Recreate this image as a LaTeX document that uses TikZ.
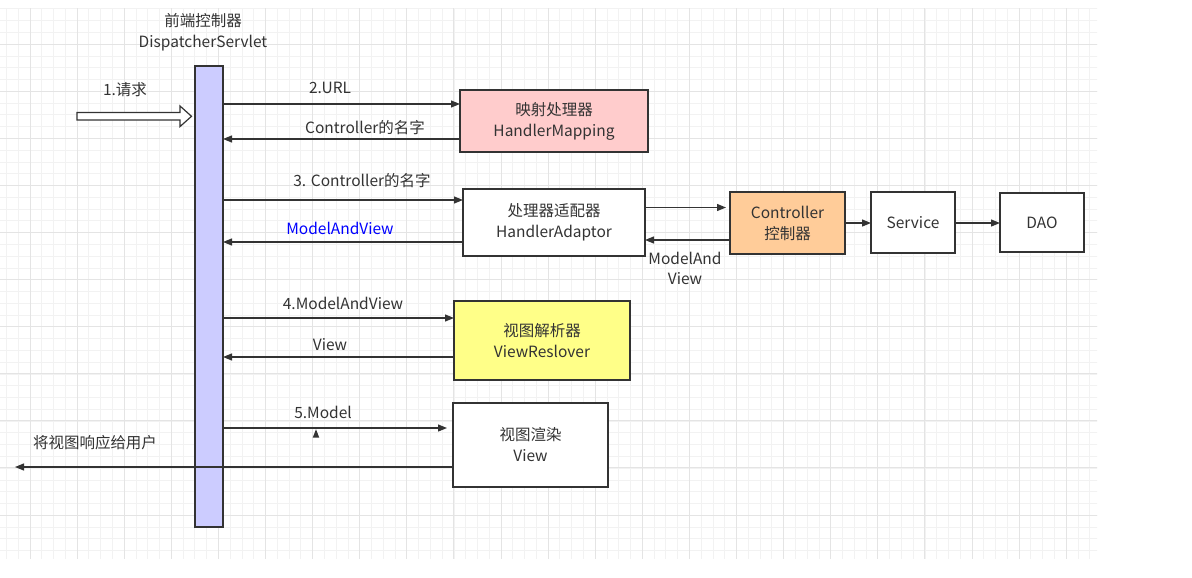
\documentclass[tikz,border=0pt]{standalone}
\usepackage{fontspec}
\setmainfont{Noto Sans CJK SC}
\usetikzlibrary{arrows.meta}
\definecolor{linec}{HTML}{333333}
\definecolor{txt}{HTML}{333333}
\definecolor{gridminor}{HTML}{F2F2F2}
\definecolor{gridmajor}{HTML}{E4E4E4}
\definecolor{barfill}{HTML}{CCCCFF}
\definecolor{hmfill}{HTML}{FFCCCC}
\definecolor{ctrlfill}{HTML}{FFCC99}
\definecolor{vrfill}{HTML}{FFFF88}
\definecolor{bluetxt}{HTML}{0000FF}
\begin{document}
\begin{tikzpicture}[x=1pt,y=-1pt,
  every node/.style={inner sep=0pt, outer sep=0pt},
  box/.style={draw=linec, line width=1.3pt, align=center, text=txt, font=\fontsize{15.5}{21}\selectfont},
  lbl/.style={text=txt, align=center, font=\fontsize{15.5}{20}\selectfont},
  conn/.style={draw=linec, line width=1.2pt, -{Triangle[length=9pt,width=7pt]}}]
\useasboundingbox (0,0) rectangle (1192,578);
\fill[white] (0,0) rectangle (1192,578);
% grid
\begin{scope}
\clip (0,9) rectangle (1097,558);
\foreach \i in {0,...,93} {\draw[gridminor, line width=0.8pt] ({6.45+11.775*\i},0) -- ({6.45+11.775*\i},578);}
\foreach \i in {0,...,48} {\draw[gridminor, line width=0.8pt] (0,{8.9+11.775*\i}) -- (1192,{8.9+11.775*\i});}
\foreach \i in {-1,...,24} {\draw[gridmajor, line width=0.9pt] ({30+47.1*\i},0) -- ({30+47.1*\i},578);}
\foreach \i in {-1,...,12} {\draw[gridmajor, line width=0.9pt] (0,{44+47.1*\i}) -- (1192,{44+47.1*\i});}
\end{scope}
% nodes
\node[lbl, font=\fontsize{15.5}{21}\selectfont] (title) at (203,32) {前端控制器\\DispatcherServlet};
\node[draw=linec, line width=1.3pt, fill=barfill, minimum width=28pt, minimum height=461pt] (bar) at (209,296.5) {};
\node[box, fill=hmfill, minimum width=188pt, minimum height=62pt] (hm) at (554,121) {映射处理器\\HandlerMapping};
\node[box, fill=white, minimum width=182pt, minimum height=67pt] (ha) at (554,222.5) {处理器适配器\\HandlerAdaptor};
\node[box, fill=ctrlfill, minimum width=115pt, minimum height=62pt] (ctrl) at (787.5,223) {Controller\\控制器};
\node[box, fill=white, minimum width=84pt, minimum height=61pt] (svc) at (913,222.5) {Service};
\node[box, fill=white, minimum width=84pt, minimum height=59pt] (dao) at (1042,222.5) {DAO};
\node[box, fill=vrfill, minimum width=176pt, minimum height=79pt] (vr) at (542,340.5) {视图解析器\\ViewReslover};
\node[box, fill=white, minimum width=155pt, minimum height=84pt] (view) at (530.5,445) {视图渲染\\View};
\coordinate (user) at (15,467);
% hollow request arrow
\draw[linec, line width=1.2pt, fill=white] (77,112.5) -- (180,112.5) -- (180,106) -- (191.5,116.3) -- (180,126.6) -- (180,120) -- (77,120) -- cycle;
% connectors
\draw[conn] (bar.east |- 0,104) -- (hm.west |- 0,104);
\draw[conn] (hm.west |- 0,139) -- (bar.east |- 0,139);
\draw[conn] (bar.east |- 0,200) -- (ha.west |- 0,200);
\draw[conn] (ha.west |- 0,242) -- (bar.east |- 0,242);
\draw[conn] (ha.east |- 0,207.5) -- ([xshift=-4pt]ctrl.west |- 0,207.5);
\draw[conn] (ctrl.west |- 0,240) -- (ha.east |- 0,240);
\draw[conn] (ctrl.east |- 0,223) -- (svc.west |- 0,223);
\draw[conn] (svc.east |- 0,223) -- (dao.west |- 0,223);
\draw[conn] (bar.east |- 0,318) -- (vr.west |- 0,318);
\draw[conn] (vr.west |- 0,357) -- (bar.east |- 0,357);
\draw[conn] (bar.east |- 0,428) -- ([xshift=-6pt]view.west |- 0,428);
\draw[conn] (view.west |- 0,467) -- (user);
\fill[linec] (312.7,437.7) -- (316,429.3) -- (319.3,437.7) -- cycle;
% labels
\node[lbl] (l1) at (125,90) {1.请求};
\node[lbl] (l2) at (330,88) {2.URL};
\node[lbl] (l2b) at (365,128) {Controller的名字};
\node[lbl] (l3) at (362,181) {3. Controller的名字};
\node[lbl, text=bluetxt] (l3b) at (340,228) {ModelAndView};
\node[lbl] (l3c) at (685,268) {ModelAnd\\View};
\node[lbl] (l4) at (343,303) {4.ModelAndView};
\node[lbl] (l4b) at (330,345) {View};
\node[lbl] (l5) at (323,412) {5.Model};
\node[lbl] (l6) at (95,443) {将视图响应给用户};
\end{tikzpicture}
\end{document}
